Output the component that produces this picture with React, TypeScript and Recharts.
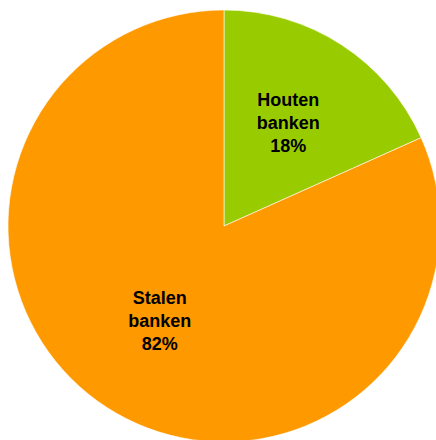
import React from "react";
import { PieChart, Pie, Cell } from "recharts";

const categories = ["Houten banken", "Stalen banken"];
const values = [18.3, 81.7];
const colors = ["#99CC00", "#FF9900"];

const data = categories.map((name, i) => ({ name, value: values[i] }));

const RADIAN = Math.PI / 180;

const renderLabel = (props: any) => {
  const { cx, cy, midAngle, percent, name } = props;
  const r = 118;
  const x = cx + r * Math.cos(-midAngle * RADIAN);
  const y = cy + r * Math.sin(-midAngle * RADIAN) - 4;
  const words = String(name).split(" ");
  const lines = [...words, `${Math.round(percent * 100)}%`];
  const lh = 23;
  const startY = y - ((lines.length - 1) * lh) / 2;
  return (
    <text
      x={x}
      y={startY}
      textAnchor="middle"
      dominantBaseline="central"
      fill="#000000"
      fontFamily="'Liberation Sans', Arial, sans-serif"
      fontWeight="bold"
      fontSize={18}
    >
      {lines.map((l, i) => (
        <tspan key={i} x={x} y={startY + i * lh}>
          {l}
        </tspan>
      ))}
    </text>
  );
};

export default function App() {
  return (
    <div
      style={{
        position: "fixed",
        left: 0,
        top: 0,
        width: 436,
        height: 440,
        overflow: "hidden",
        background: "#ffffff",
      }}
    >
      <PieChart width={436} height={440} margin={{ top: 0, right: 0, bottom: 0, left: 0 }}>
        <Pie
          data={data}
          dataKey="value"
          nameKey="name"
          cx={224}
          cy={226}
          outerRadius={216}
          startAngle={90}
          endAngle={-270}
          stroke="#ffffff"
          strokeWidth={0.6}
          labelLine={false}
          label={renderLabel}
          isAnimationActive={false}
        >
          {data.map((d, i) => (
            <Cell key={d.name} fill={colors[i]} />
          ))}
        </Pie>
      </PieChart>
    </div>
  );
}
